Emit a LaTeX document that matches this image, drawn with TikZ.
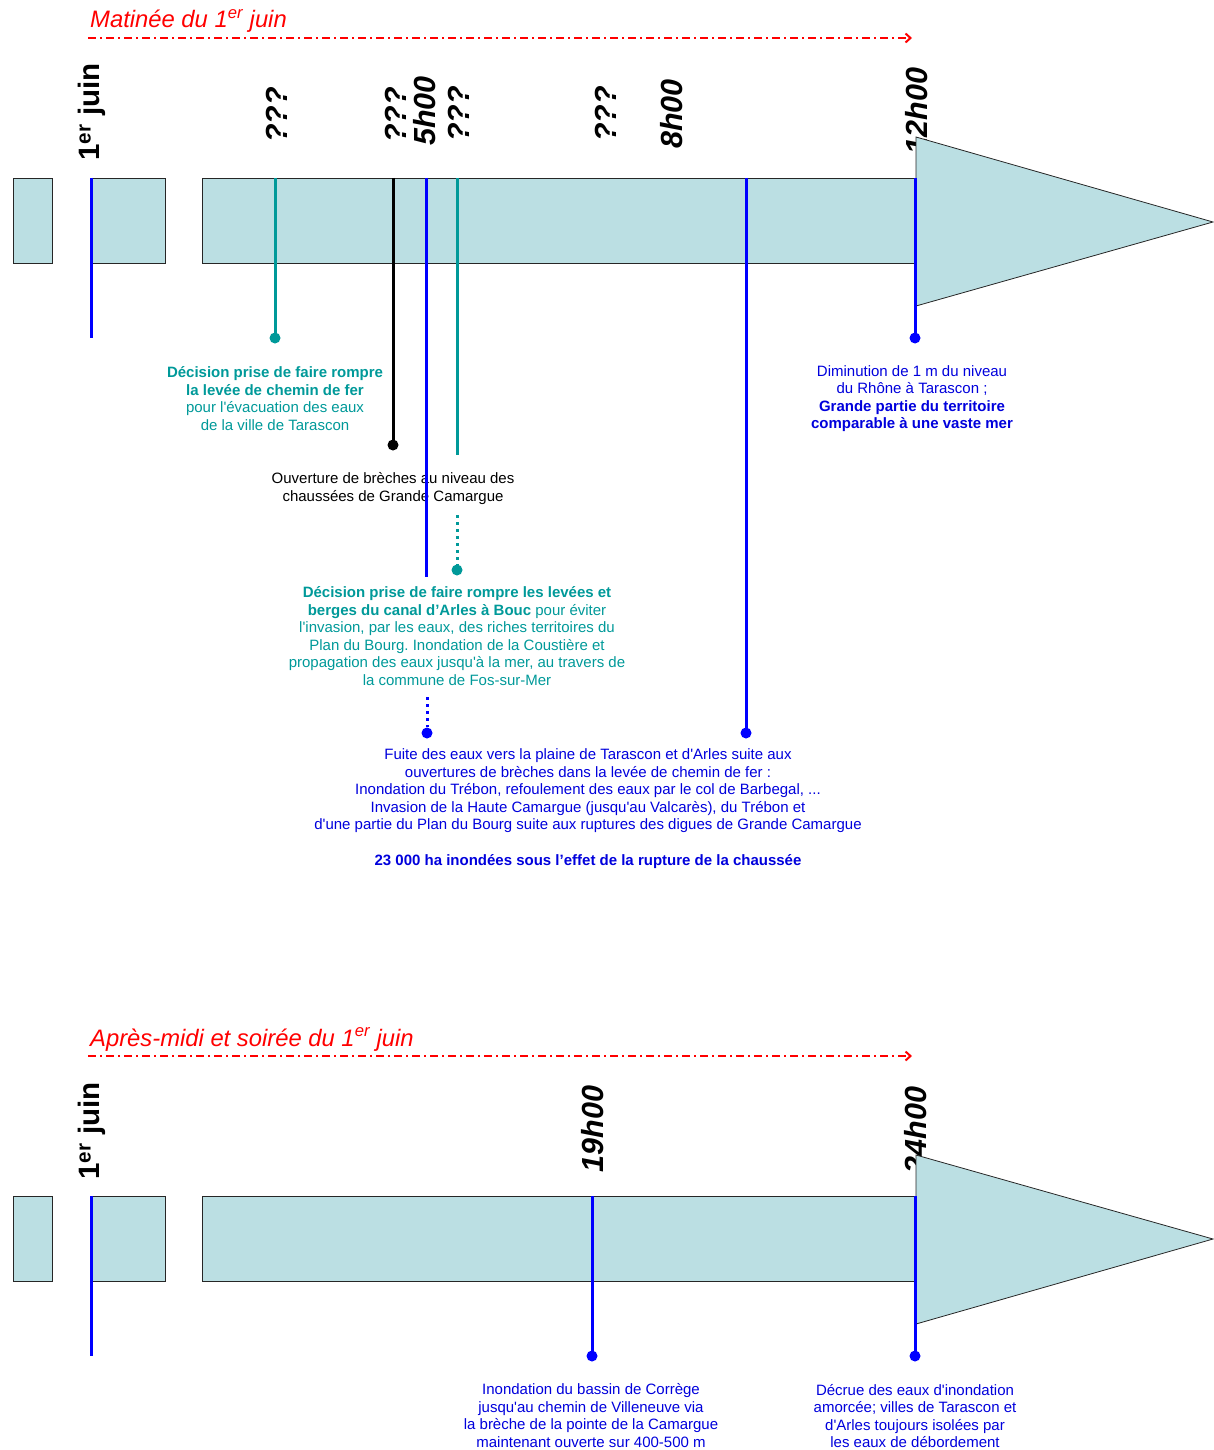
\documentclass[tikz,border=0pt]{standalone}
\usepackage{fontspec}
\setmainfont{Liberation Sans}[Ligatures=TeXOff]
\usetikzlibrary{arrows.meta}
\definecolor{barfill}{RGB}{187,223,227}
\definecolor{tealc}{RGB}{0,153,153}
\definecolor{bluec}{RGB}{0,0,255}
\definecolor{bluetext}{RGB}{0,0,220}
\definecolor{redc}{RGB}{255,0,0}
\frenchspacing
\begin{document}
\begin{tikzpicture}[x=1pt,y=-1pt,
  bar/.style={draw=black!85, fill=barfill, line width=0.8pt},
  tick/.style={line width=3pt},
  dotnode/.style={circle, inner sep=0pt, minimum size=11pt, fill=#1},
  timelabel/.style={rotate=90, font=\fontsize{30.5}{33}\selectfont\bfseries\itshape, anchor=center, inner sep=0pt},
  daylabel/.style={rotate=90, font=\fontsize{29.5}{32}\selectfont\bfseries, anchor=center, inner sep=0pt},
  body/.style={align=center, font=\fontsize{15}{17.5}\selectfont, inner sep=0pt},
  headline/.style={font=\fontsize{23.8}{27}\selectfont\itshape, text=redc, anchor=base west, inner sep=0pt},
  periodarrow/.style={draw=redc, line width=2pt, dash pattern=on 8pt off 4pt on 2pt off 4pt, -{Straight Barb[length=5pt,width=9pt]}},
  dottedline/.style={line width=3pt, dash pattern=on 3pt off 4pt}
]
\useasboundingbox (0,0) rectangle (1213,1450);

%================ TOP : Matinée =================
\node[headline] (h1) at (90,28) {Matinée du 1\textsuperscript{er} juin};
\coordinate (a1s) at (88,38);
\coordinate (a1e) at (912,38);
\draw[periodarrow] (a1s) -- (a1e);

\node[daylabel] (l1) at (92,112) {1\textsuperscript{er} juin};
\node[timelabel] (l2) at (277,115) {???};
\node[timelabel] (l3) at (396,115) {???};
\node[timelabel] (l4) at (425,111) {5h00};
\node[timelabel] (l5) at (459,114) {???};
\node[timelabel] (l6) at (606,114) {???};
\node[timelabel] (l7) at (672,114) {8h00};
\node[timelabel] (l8) at (917,111) {12h00};

\draw[bar] (13,178) rectangle (52,263);
\draw[bar] (91,178) rectangle (165,263);
\draw[bar] (202,178) rectangle (916,263);
\draw[bar] (916,137) -- (1213,222) -- (916,306) -- cycle;

% texts
\node[body, text=tealc] (x1) at (275,398.5)
  {\textbf{Décision prise de faire rompre}\\\textbf{la levée de chemin de fer}\\pour l'évacuation des eaux\\de la ville de Tarascon};
\node[body, text=black] (x2) at (393,488.5)
  {Ouverture de brèches au niveau des\\chaussées de Grande Camargue};
\node[body, text=tealc] (x3) at (457,636)
  {\textbf{Décision prise de faire rompre les levées et}\\\textbf{berges du canal d’Arles à Bouc} pour éviter\\l'invasion, par les eaux, des riches territoires du\\Plan du Bourg. Inondation de la Coustière et\\propagation des eaux jusqu'à la mer, au travers de\\la commune de Fos-sur-Mer};
\node[body, text=bluetext] (x4) at (588,791)
  {Fuite des eaux vers la plaine de Tarascon et d'Arles suite aux\\ouvertures de brèches dans la levée de chemin de fer :\\Inondation du Trébon, refoulement des eaux par le col de Barbegal, ...\\Invasion de la Haute Camargue (jusqu'au Valcarès), du Trébon et\\d'une partie du Plan du Bourg suite aux ruptures des digues de Grande Camargue};
\node[body, text=bluetext, font=\fontsize{15}{17.5}\selectfont\bfseries] (x5) at (588,862)
  {23 000 ha inondées sous l’effet de la rupture de la chaussée};
\node[body, text=bluetext] (x6) at (912,398.5)
  {Diminution de 1 m du niveau\\du Rhône à Tarascon ;\\\textbf{Grande partie du territoire}\\\textbf{comparable à une vaste mer}};

% ticks
\coordinate (t1) at (91,178);  \coordinate (e1) at (91,338);
\draw[tick, bluec] (t1) -- (e1);
\coordinate (t2) at (275,178); \node[dotnode=tealc] (d2) at (275,338) {};
\draw[tick, tealc] (t2) -- (d2.center);
\coordinate (t3) at (393,178); \node[dotnode=black] (d3) at (393,445) {};
\draw[tick, black] (t3) -- (d3.center);
\coordinate (t4) at (426,178); \coordinate (e4) at (426,577);
\draw[tick, bluec] (t4) -- (e4);
\coordinate (s4) at (427,697); \node[dotnode=bluec] (d4) at (427,733) {};
\draw[dottedline, bluec] (s4) -- (d4.north);
\coordinate (t5) at (457,178); \coordinate (e5) at (457,455);
\draw[tick, tealc] (t5) -- (e5);
\coordinate (s5) at (457,515); \node[dotnode=tealc] (d5) at (457,570) {};
\draw[dottedline, tealc] (s5) -- (d5.north);
\coordinate (t6) at (746,178); \node[dotnode=bluec] (d6) at (746,733) {};
\draw[tick, bluec] (t6) -- (d6.center);
\coordinate (t7) at (915,178); \node[dotnode=bluec] (d7) at (915,338) {};
\draw[tick, bluec] (t7) -- (d7.center);

%================ BOTTOM : Après-midi =================
\node[headline] (h2) at (90,1046) {Après-midi et soirée du 1\textsuperscript{er} juin};
\coordinate (a2s) at (88,1056);
\coordinate (a2e) at (912,1056);
\draw[periodarrow] (a2s) -- (a2e);

\node[daylabel] (m1) at (92,1131) {1\textsuperscript{er} juin};
\node[timelabel] (m2) at (593,1129) {19h00};
\node[timelabel] (m3) at (916,1130) {24h00};

\draw[bar] (13,1196) rectangle (52,1281);
\draw[bar] (91,1196) rectangle (165,1281);
\draw[bar] (202,1196) rectangle (916,1281);
\draw[bar] (916,1155) -- (1213,1239) -- (916,1324) -- cycle;

\node[body, text=bluetext] (y1) at (591,1415.5)
  {Inondation du bassin de Corrège\\jusqu'au chemin de Villeneuve via\\la brèche de la pointe de la Camargue\\maintenant ouverte sur 400-500 m};
\node[body, text=bluetext] (y2) at (915,1416)
  {Décrue des eaux d'inondation\\amorcée; villes de Tarascon et\\d'Arles toujours isolées par\\les eaux de débordement};

\coordinate (u1) at (91,1196);  \coordinate (v1) at (91,1356);
\draw[tick, bluec] (u1) -- (v1);
\coordinate (u2) at (592,1196); \node[dotnode=bluec] (w2) at (592,1356) {};
\draw[tick, bluec] (u2) -- (w2.center);
\coordinate (u3) at (915,1196); \node[dotnode=bluec] (w3) at (915,1356) {};
\draw[tick, bluec] (u3) -- (w3.center);
\end{tikzpicture}
\end{document}
